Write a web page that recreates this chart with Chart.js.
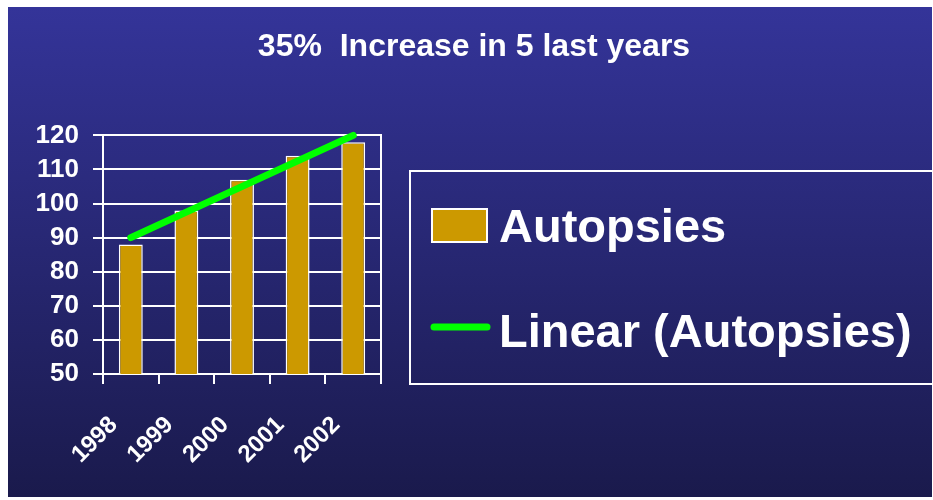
<!DOCTYPE html>
<html>
<head>
<meta charset="utf-8">
<title>Autopsies</title>
<script src="https://cdn.jsdelivr.net/npm/chart.js@4.4.1/dist/chart.umd.min.js"></script>
<style>
  html, body { margin: 0; padding: 0; background: #ffffff; }
  #panel {
    position: absolute; left: 8px; top: 7px; width: 924px; height: 490px;
    background: linear-gradient(to bottom, #343499 0%, #1a1a4c 100%);
  }
</style>
</head>
<body>
<div id="panel"><canvas id="chart" width="924" height="490"></canvas></div>
<script>
// values
const years = ['1998', '1999', '2000', '2001', '2002'];
const autopsies = [88, 98, 107, 114, 118];
// trend line end points (Excel linear trendline)
const trendYears = ['1998', '2002'];
const trendValues = [90, 120];
const yTicks = [50, 60, 70, 80, 90, 100, 110, 120];

const FONT = '"Liberation Sans", Arial, sans-serif';

// legend drawn inside a white framed box, like the original
const boxLegend = {
    id: 'boxLegend',
    afterDraw(chart) {
        const ctx = chart.ctx;
        const sets = chart.data.datasets;
        ctx.save();
        ctx.strokeStyle = '#ffffff';
        ctx.lineWidth = 2;
        ctx.strokeRect(402, 164, 540, 213);

        ctx.font = 'bold 47px ' + FONT;
        ctx.textBaseline = 'alphabetic';
        ctx.textAlign = 'left';

        // bar item
        ctx.fillStyle = sets[0].backgroundColor;
        ctx.fillRect(424, 202, 55, 33);
        ctx.strokeStyle = '#ffffff';
        ctx.lineWidth = 2;
        ctx.strokeRect(424, 202, 55, 33);
        ctx.fillStyle = '#ffffff';
        ctx.fillText(sets[0].label, 491, 235);

        // line item
        ctx.strokeStyle = sets[1].borderColor;
        ctx.lineWidth = 7;
        ctx.lineCap = 'round';
        ctx.beginPath();
        ctx.moveTo(426, 320);
        ctx.lineTo(479, 320);
        ctx.stroke();
        ctx.fillStyle = '#ffffff';
        ctx.fillText(sets[1].label, 491, 340);
        ctx.restore();
    }
};

const ctx = document.getElementById('chart').getContext('2d');
new Chart(ctx, {
    type: 'bar',
    data: {
        labels: years,
        datasets: [{
            type: 'bar',
            label: 'Autopsies',
            data: autopsies,
            backgroundColor: '#cc9900',
            borderColor: '#ffffff',
            borderWidth: 1.5,
            categoryPercentage: 1.0,
            barPercentage: 0.43,
            order: 2
        }, {
            type: 'line',
            label: 'Linear (Autopsies)',
            data: trendYears.map((y, i) => ({ x: y, y: trendValues[i] })),
            borderColor: '#00ff00',
            borderWidth: 7,
            borderCapStyle: 'round',
            pointRadius: 0,
            fill: false,
            clip: false,
            order: 1
        }]
    },
    options: {
        responsive: false,
        animation: false,
        layout: {
            padding: { left: 8 }
        },
        plugins: {
            legend: { display: false },
            tooltip: { enabled: false },
            title: {
                display: true,
                text: '35%  Increase in 5 last years',
                color: '#ffffff',
                font: { family: FONT, size: 32, weight: 'bold' },
                padding: { top: 21, bottom: 69 }
            }
        },
        scales: {
            x: {
                offset: true,
                afterFit: (scale) => { scale.height = 123; },
                grid: {
                    offset: true,
                    drawOnChartArea: false,
                    color: 'rgba(0,0,0,0)',
                    tickColor: '#ffffff',
                    lineWidth: 2,
                    tickLength: 10
                },
                border: { display: true, color: '#ffffff', width: 2 },
                ticks: {
                    color: '#ffffff',
                    font: { family: FONT, size: 24, weight: 'bold' },
                    minRotation: 45,
                    maxRotation: 45,
                    autoSkip: false,
                    padding: 27,
                    labelOffset: -17
                }
            },
            y: {
                min: yTicks[0],
                max: yTicks[yTicks.length - 1],
                afterFit: (scale) => { scale.width = 87; },
                grid: {
                    color: '#ffffff',
                    lineWidth: 2,
                    tickLength: 10
                },
                border: { display: true, color: '#ffffff', width: 2 },
                ticks: {
                    stepSize: yTicks[1] - yTicks[0],
                    autoSkip: false,
                    color: '#ffffff',
                    font: { family: FONT, size: 26, weight: 'bold' },
                    padding: 14
                }
            },
            // empty right axis: gives the plot frame its right edge and
            // reserves the room for the legend box
            y2: {
                position: 'right',
                afterFit: (scale) => { scale.width = 551; },
                grid: { drawOnChartArea: false, drawTicks: false },
                border: { display: true, color: '#ffffff', width: 2 },
                ticks: { display: false }
            }
        }
    },
    plugins: [boxLegend]
});
</script>
</body>
</html>
